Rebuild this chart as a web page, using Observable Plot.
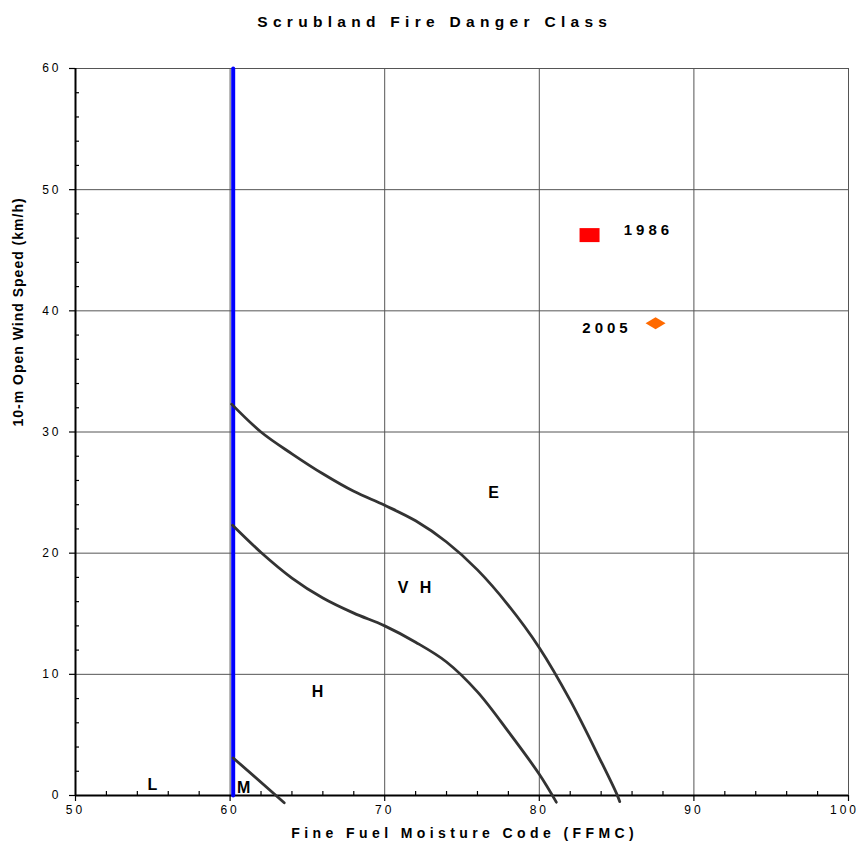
<!DOCTYPE html>
<html>
<head>
<meta charset="utf-8">
<script src="https://cdn.jsdelivr.net/npm/d3@7"></script>
<script src="https://cdn.jsdelivr.net/npm/@observablehq/plot@0.6"></script>
<style>
  html, body { margin: 0; padding: 0; background: #fff; overflow: hidden; }
</style>
</head>
<body>
<div id="chart"></div>
<script>
// ---- data ----
const titleText = "Scrubland Fire Danger Class";
const xLabelText = "Fine Fuel Moisture Code (FFMC)";
const yLabelText = "10-m Open Wind Speed (km/h)";

const ffmcTicks = [50, 60, 70, 80, 90, 100];
const windTicks = [0, 10, 20, 30, 40, 50, 60];
const ffmcMinor = [52, 54, 56, 58, 62, 64, 66, 68, 72, 74, 76, 78, 82, 84, 86, 88, 92, 94, 96, 98];
const windMinor = [2, 4, 6, 8, 12, 14, 16, 18, 22, 24, 26, 28, 32, 34, 36, 38, 42, 44, 46, 48, 52, 54, 56, 58];

// Low / Moderate boundary (vertical blue line)
const lowModFfmc = [60.2, 60.2];
const lowModWind = [0, 60];

// Moderate / High boundary
const modHighFfmc = [60.2, 63.5];
const modHighWind = [3.1, -0.6];

// High / Very High boundary
const highVhFfmc = [60.16, 62, 64, 66, 68, 70, 72, 74, 76, 78, 80, 81.1];
const highVhWind = [22.3, 20.06, 17.95, 16.3, 15.05, 14.0, 12.65, 11.02, 8.55, 5.27, 1.75, -0.55];

// Very High / Extreme boundary
const vhExtFfmc = [60.1, 62, 64, 66, 68, 70, 72, 74, 76, 78, 80, 82, 84, 85, 85.2];
const vhExtWind = [32.3, 30.0, 28.2, 26.55, 25.1, 23.95, 22.67, 20.92, 18.62, 15.7, 12.2, 7.85, 2.8, 0.15, -0.5];

// Class labels
const classNames = ["E", "V H", "H", "L", "M"];
const classFfmc = [77.04, 71.93, 65.65, 54.98, 60.87];
const classWind = [24.96, 17.12, 8.58, 0.87, 0.66];

// Observed years
const years = ["1986", "2005"];
const yearFfmc = [83.25, 87.52];
const yearWind = [46.25, 38.98];
const yearColors = ["#ff0000", "#ff6a00"];
const yearLabelFfmc = [86.93, 84.25];
const yearLabelWind = [46.66, 38.6];

// ---- tables built from arrays ----
const toLine = (xs, ys) => xs.map((x, i) => ({ffmc: x, wind: ys[i]}));
const classTable = classNames.map((t, i) => ({t, ffmc: classFfmc[i], wind: classWind[i]}));
const yearTable = years.map((t, i) => ({t, ffmc: yearFfmc[i], wind: yearWind[i], color: yearColors[i], lx: yearLabelFfmc[i], ly: yearLabelWind[i]}));

const rectSymbol = {draw(ctx) { ctx.moveTo(-10, -7); ctx.lineTo(10, -7); ctx.lineTo(10, 7); ctx.lineTo(-10, 7); ctx.closePath(); }};
const diamondSymbol = {draw(ctx) { ctx.moveTo(-10, 0); ctx.lineTo(0, -6); ctx.lineTo(10, 0); ctx.lineTo(0, 6); ctx.closePath(); }};

const W = 861, H = 845, mL = 75, mR = 13, mT = 68, mB = 50;
const plotW = W - mL - mR, plotH = H - mT - mB;
const font = "'Liberation Sans', Arial, Helvetica, sans-serif";
const curveStroke = "#333333";

const chart = Plot.plot({
  width: W, height: H,
  marginLeft: mL, marginRight: mR, marginTop: mT, marginBottom: mB,
  x: {domain: [50, 100], axis: null},
  y: {domain: [0, 60], axis: null},
  style: {fontFamily: font, background: "#fff", color: "#000"},
  marks: [
    // grid
    Plot.ruleX(ffmcTicks, {stroke: "#555", strokeWidth: 1}),
    Plot.ruleY(windTicks, {stroke: "#555", strokeWidth: 1}),
    // minor ticks (inside)
    Plot.ruleX(ffmcMinor, {insetTop: plotH - 4, stroke: "#000", strokeWidth: 1.2}),
    Plot.ruleY(windMinor, {insetRight: plotW - 4, stroke: "#000", strokeWidth: 1.2}),
    // major ticks (outside)
    Plot.ruleX(ffmcTicks, {insetTop: plotH, insetBottom: -6, stroke: "#000", strokeWidth: 1.2}),
    Plot.ruleY(windTicks, {insetRight: plotW, insetLeft: -6, stroke: "#000", strokeWidth: 1.2}),
    // axis lines
    Plot.ruleY([0], {stroke: "#000", strokeWidth: 2}),
    Plot.ruleX([50], {stroke: "#000", strokeWidth: 2}),
    // boundaries
    Plot.line(toLine(lowModFfmc, lowModWind), {x: "ffmc", y: "wind", stroke: "#0000ff", strokeWidth: 4}),
    Plot.line(toLine(modHighFfmc, modHighWind), {x: "ffmc", y: "wind", stroke: curveStroke, strokeWidth: 2.8}),
    Plot.line(toLine(highVhFfmc, highVhWind), {x: "ffmc", y: "wind", stroke: curveStroke, strokeWidth: 2.8, curve: "catmull-rom"}),
    Plot.line(toLine(vhExtFfmc, vhExtWind), {x: "ffmc", y: "wind", stroke: curveStroke, strokeWidth: 2.8, curve: "catmull-rom"}),
    // points
    Plot.dot(yearTable.filter(d => d.t === "1986"), {x: "ffmc", y: "wind", fill: "color", stroke: "none", symbol: rectSymbol, r: 5}),
    Plot.dot(yearTable.filter(d => d.t === "2005"), {x: "ffmc", y: "wind", fill: "color", stroke: "none", symbol: diamondSymbol, r: 5}),
    // labels
    Plot.text(yearTable, {x: "lx", y: "ly", text: "t", fontSize: 15, fontWeight: "bold", dx: 2, fill: "#000"}),
    Plot.text(classTable, {x: "ffmc", y: "wind", text: "t", fontSize: 16, fontWeight: "bold", dx: 1.75, fill: "#000"}),
    // tick labels
    Plot.text(ffmcTicks, {x: d => d, text: d => String(d), frameAnchor: "bottom", dy: 18.5, dx: 0, fontSize: 12, fill: "#000"}),
    Plot.text(windTicks, {y: d => d, text: d => String(d), frameAnchor: "left", textAnchor: "end", dx: -14, fontSize: 12, fill: "#000"}),
    // titles
    Plot.text([titleText], {frameAnchor: "top", dy: -52.5, dx: -27.25, fontSize: 15.5, fontWeight: "bold", fill: "#000"}),
    Plot.text([xLabelText], {frameAnchor: "bottom", dy: 42, dx: 2.7, fontSize: 14, fontWeight: "bold", fill: "#000"}),
    Plot.text([yLabelText], {frameAnchor: "left", rotate: -90, dx: -56.5, dy: -5.5, fontSize: 14, fontWeight: "bold", fill: "#000"})
  ]
});
document.getElementById("chart").appendChild(chart);

// letter spacing like the original
const spacing = new Map();
spacing.set(titleText, "5.3px");
spacing.set(xLabelText, "4.4px");
spacing.set(yLabelText, "1px");
years.forEach(y => spacing.set(y, "4px"));
classNames.forEach(c => spacing.set(c, "3.5px"));
ffmcTicks.concat(windTicks).forEach(t => spacing.set(String(t), "3px"));
d3.select(chart).selectAll("text").each(function() {
  const s = spacing.get(this.textContent);
  if (s) this.style.letterSpacing = s;
  // keep the last x tick label inside the picture
  if (this.textContent === "100") this.setAttribute("dx", "-4");
});
</script>
</body>
</html>
